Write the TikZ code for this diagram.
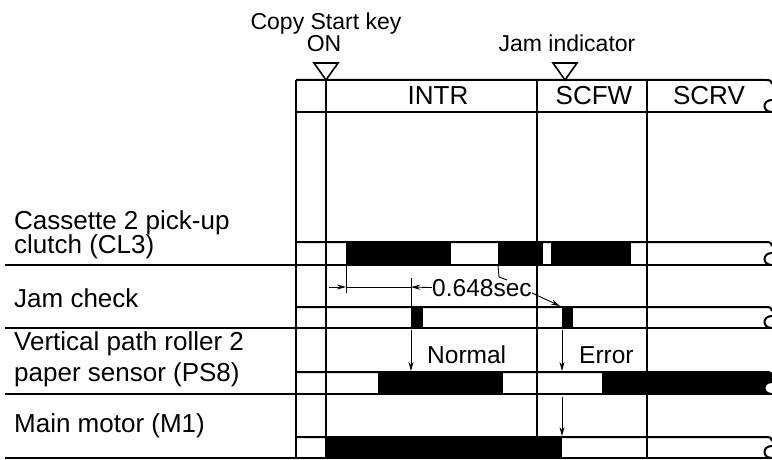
\documentclass[tikz,border=0pt]{standalone}
\usepackage{fontspec}
\setmainfont{Liberation Sans}
\usetikzlibrary{arrows.meta}
\newcommand\bandtop[1]{\draw[grid] (296,#1) -- (766,#1) .. controls (770,#1) and (772,{#1+1}) .. (772,{#1+4});}
\newcommand\bandbot[2]{\draw[grid] (#1,#2) -- (772,#2);
  \fill[white] (773,{#2-12}) .. controls (762,{#2-12}) and (762,#2) .. (773,#2) -- cycle;
  \draw[grid] (772,{#2-12}) .. controls (762,{#2-12}) and (762,#2) .. (772,#2);}
\begin{document}
\begin{tikzpicture}[x=1pt,y=-1pt]
\tikzset{
  grid/.style={line width=2pt},
  lab/.style={font=\fontsize{26}{27}\selectfont, anchor=base west, inner sep=0pt},
  ctext/.style={font=\fontsize{26}{26}\selectfont, anchor=base, inner sep=0pt},
  ttext/.style={font=\fontsize{23}{23}\selectfont, anchor=base, inner sep=0pt},
  bar/.style={fill=black},
  thinl/.style={line width=0.9pt},
  arr/.style={thinl,-{Stealth[length=9pt,width=5pt]}},
  tri/.style={line width=1.6pt, fill=white}
}
\useasboundingbox (0,0) rectangle (772,460);

% top texts and markers
\node[ttext] (copy) at (326,30) {Copy Start key};
\node[ttext] (on) at (324,52) {ON};
\node[ttext] (jamind) at (567,52) {Jam indicator};

% vertical lines
\coordinate (v0t) at (296,80); \coordinate (v0b) at (296,458);
\coordinate (v1t) at (326,80); \coordinate (v1b) at (326,458);
\coordinate (v2t) at (537,80); \coordinate (v2b) at (537,458);
\coordinate (v3t) at (647,80); \coordinate (v3b) at (647,458);
\draw[grid] (v0t) -- (v0b);
\draw[grid] (v1t) -- (v1b);
\draw[grid] (v2t) -- (v2b);
\draw[grid] (v3t) -- (v3b);

% header
\bandtop{80}
\bandbot{296}{112}
\node[ctext] (intr) at (438,105) {INTR};
\node[ctext] (scfw) at (594,105) {SCFW};
\node[ctext] (scrv) at (709,105) {SCRV};

% triangles
\draw[tri] (314,63) -- (338,63) -- (326,80) -- cycle;
\draw[tri] (553,63) -- (577,63) -- (565,80) -- cycle;

% black bars
\fill[bar] (346,242) rectangle (451,265);
\fill[bar] (498,242) rectangle (543,265);
\fill[bar] (551,242) rectangle (631,265);
\fill[bar] (411,307) rectangle (423,328);
\fill[bar] (562,307) rectangle (573,328);
\fill[bar] (378,372) rectangle (503,394);
\fill[bar] (602,372) -- (768,372) .. controls (771,372) and (773,373) .. (773,376) -- (773,394) -- (602,394) -- cycle;
\fill[bar] (326,437) rectangle (562,458);

% bands
\bandtop{242}\bandbot{5}{265}
\bandtop{307}\bandbot{5}{328}
\bandtop{372}\bandbot{5}{394}
\bandtop{437}\bandbot{5}{458}

% labels
\node[lab] (l1a) at (14,229) {Cassette 2 pick-up};
\node[lab] (l1b) at (14,253) {clutch (CL3)};
\node[lab] (l2) at (14,307) {Jam check};
\node[lab] (l3a) at (14,350) {Vertical path roller 2};
\node[lab] (l3b) at (14,381) {paper sensor (PS8)};
\node[lab] (l4) at (14,432) {Main motor (M1)};

% dimension 0.648sec
\coordinate (t1a) at (346,265); \coordinate (t1b) at (346,293);
\coordinate (t2a) at (411,278); \coordinate (t2b) at (411,307);
\draw[thinl] (t1a) -- (t1b);
\draw[thinl] (t2a) -- (t2b);
\coordinate (a1s) at (329,287); \coordinate (a1e) at (346,287);
\draw[arr] (a1s) -- (a1e);
\draw[thinl] (a1e) -- (411,287);
\node[ctext, anchor=base west, font=\fontsize{24.5}{25}\selectfont] (sec) at (432,296) {0.648sec};
\draw[arr] (sec.west) -- (411,287);
\coordinate (ld0) at (498,265);
\draw[thinl] (ld0) -- (499,277) -- (507,280);
\draw[arr] (532,293) -- (560,306);

% result arrows
\draw[arr] (411,330) -- (411,371);
\node[ctext, anchor=base west, font=\fontsize{24.5}{25}\selectfont] (normal) at (427,363) {Normal};
\draw[arr] (562,330) -- (562,371);
\node[ctext, anchor=base west, font=\fontsize{24.5}{25}\selectfont] (error) at (579,363) {Error};
\draw[arr] (562,397) -- (562,436);
\end{tikzpicture}
\end{document}
